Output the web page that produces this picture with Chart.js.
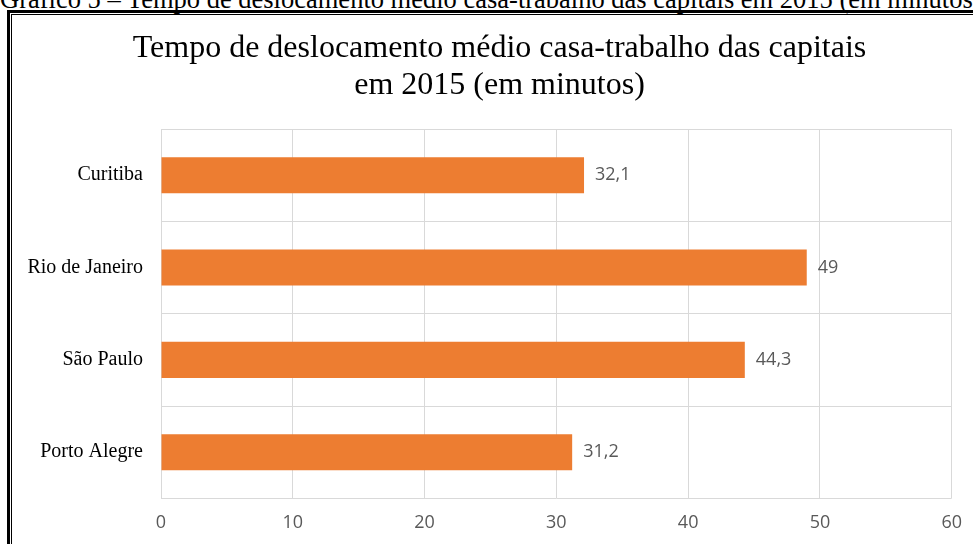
<!DOCTYPE html>
<html>
<head>
<meta charset="utf-8">
<script src="https://cdn.jsdelivr.net/npm/chart.js@4.4.1/dist/chart.umd.min.js"></script>
<style>
  html, body { margin: 0; padding: 0; background: #fff; width: 973px; height: 544px; overflow: hidden; position: relative; }
  #caption { position: absolute; left: 0; top: -13px; font-family: "Liberation Serif", serif; font-size: 26.5px; line-height: 24px; white-space: nowrap; color: #000; }
  #frameOuter { position: absolute; left: 7px; top: 10px; width: 2000px; height: 2000px; border-left: 3px solid #000; border-top: 3px solid #000; }
  #frameInner { position: absolute; left: 11px; top: 14px; width: 2000px; height: 2000px; border-left: 1px solid #000; border-top: 1px solid #000; }
  #c { position: absolute; left: 0; top: 0; }
</style>
</head>
<body>
<div id="caption">Gráfico 5 – Tempo de deslocamento médio casa-trabalho das capitais em 2015 (em minutos)</div>
<div id="frameOuter"></div>
<div id="frameInner"></div>
<canvas id="c" width="976" height="558"></canvas>
<script>
const titleLines = ["Tempo de deslocamento médio casa-trabalho das capitais", "em 2015 (em minutos)"];
const categories = ["Curitiba", "Rio de Janeiro", "São Paulo", "Porto Alegre"];
const travelMinutes = [32.1, 49, 44.3, 31.2];
const xTicks = [0, 10, 20, 30, 40, 50, 60];

const valueLabels = {
  id: 'valueLabels',
  afterDatasetsDraw(chart) {
    const ctx = chart.ctx;
    const meta = chart.getDatasetMeta(0);
    ctx.save();
    ctx.font = '18px "Open Sans", sans-serif';
    ctx.fillStyle = '#595959';
    ctx.textAlign = 'left';
    ctx.textBaseline = 'middle';
    meta.data.forEach((bar, i) => {
      const v = chart.data.datasets[0].data[i];
      ctx.fillText(String(v).replace('.', ','), bar.x + 11, bar.y);
    });
    ctx.restore();
  }
};

// Chart title, centred on the chart frame rather than on the plot area
const frameTitle = {
  id: 'frameTitle',
  afterDraw(chart, args, opts) {
    const ctx = chart.ctx;
    ctx.save();
    ctx.font = '32px "Liberation Serif", serif';
    ctx.fillStyle = '#000';
    ctx.textAlign = 'center';
    ctx.textBaseline = 'middle';
    opts.lines.forEach((line, i) => {
      ctx.fillText(line, opts.centerX, opts.firstY + i * opts.lineGap);
    });
    ctx.restore();
  }
};

new Chart(document.getElementById('c'), {
  type: 'bar',
  data: {
    labels: categories,
    datasets: [{
      data: travelMinutes,
      backgroundColor: '#ED7D31',
      borderWidth: 0,
      barPercentage: 1,
      categoryPercentage: 0.39
    }]
  },
  options: {
    indexAxis: 'y',
    responsive: false,
    animation: false,
    devicePixelRatio: 1,
    layout: { padding: { left: 14, right: 8, top: 129, bottom: 10 } },
    plugins: {
      legend: { display: false },
      tooltip: { enabled: false },
      title: { display: false },
      frameTitle: { lines: titleLines, centerX: 499.5, firstY: 49, lineGap: 37 }
    },
    scales: {
      x: {
        min: 0, max: 60,
        afterBuildTicks(scale) { scale.ticks = xTicks.map(v => ({ value: v })); },
        grid: { color: '#d9d9d9', drawTicks: false, lineWidth: 1 },
        border: { display: false },
        ticks: { color: '#595959', padding: 14, font: { family: '"Open Sans", sans-serif', size: 18 } }
      },
      y: {
        afterFit(scale) { scale.width = 147; },
        grid: { color: '#d9d9d9', drawTicks: false, offset: true, lineWidth: 1 },
        border: { display: false },
        ticks: { color: '#000', padding: 18, font: { family: '"Liberation Serif", serif', size: 20 } }
      }
    }
  },
  plugins: [valueLabels, frameTitle]
});
</script>
</body>
</html>
